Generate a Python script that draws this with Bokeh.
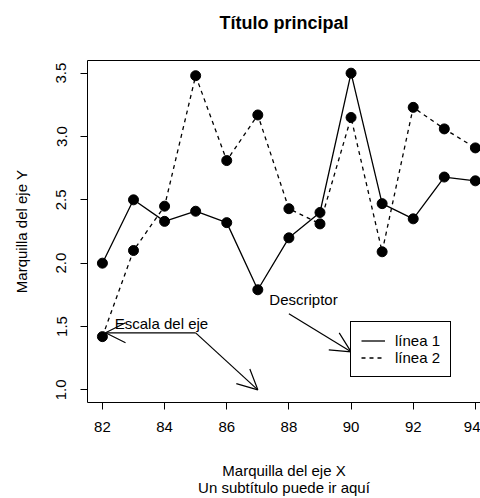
from bokeh.plotting import figure
from bokeh.models import (Range1d, FixedTicker, PrintfTickFormatter, LinearAxis, Arrow,
                          OpenHead, Label, Legend, LegendItem, ColumnDataSource)
from bokeh.embed import file_html
from bokeh.resources import INLINE

# ---- data ----
years = [82, 83, 84, 85, 86, 87, 88, 89, 90, 91, 92, 93, 94]
linea1 = [2.00, 2.50, 2.33, 2.41, 2.32, 1.79, 2.20, 2.40, 3.50, 2.47, 2.35, 2.68, 2.65]
linea2 = [1.42, 2.10, 2.45, 3.48, 2.81, 3.17, 2.43, 2.31, 3.15, 2.09, 3.23, 3.06, 2.91]
x_ticks = [82, 84, 86, 88, 90, 92, 94]
y_ticks = [1.0, 1.5, 2.0, 2.5, 3.0, 3.5]
series_labels = ["línea 1", "línea 2"]

# annotations (data coordinates)
text_labels = ["Escala del eje", "Descriptor"]
text_x = [83.9, 88.47]
text_y = [1.52, 1.71]
arrow_x0 = [85.0, 85.0, 88.0]
arrow_y0 = [1.45, 1.45, 1.60]
arrow_x1 = [82.1, 87.0, 90.0]
arrow_y1 = [1.45, 1.00, 1.30]

FONT = "Liberation Sans"

span_x = max(years) - min(years)
x_lo = min(years) - 0.04 * span_x
x_full_hi = max(years) + 0.04 * span_x
y_lo = min(y_ticks) - 0.04 * (max(y_ticks) - min(y_ticks))
y_hi = max(y_ticks) + 0.04 * (max(y_ticks) - min(y_ticks))
px_per_unit = 31.08
frame_w = 480 - 87
x_hi = x_lo + frame_w / px_per_unit

p = figure(width=480, height=498, output_backend="svg", toolbar_location=None,
           x_range=Range1d(x_lo, x_hi), y_range=Range1d(y_lo, y_hi),
           min_border_left=87, min_border_right=0, min_border_top=60, min_border_bottom=94,
           background_fill_color="white", border_fill_color="white")

p.outline_line_color = None
p.xgrid.visible = False
p.ygrid.visible = False

for ax in (p.xaxis[0], p.yaxis[0]):
    ax.axis_line_color = "black"
    ax.axis_line_width = 1
    ax.major_tick_line_color = "black"
    ax.major_tick_out = 7
    ax.major_tick_in = 0
    ax.minor_tick_line_color = None
    ax.major_label_text_font = FONT
    ax.major_label_text_font_size = "15px"
    ax.major_label_text_color = "black"
    ax.axis_label_text_font = FONT
    ax.axis_label_text_font_size = "15px"
    ax.axis_label_text_font_style = "normal"
    ax.axis_label_text_color = "black"

p.xaxis.bounds = (x_lo, x_full_hi)
p.xaxis.ticker = FixedTicker(ticks=x_ticks)
p.xaxis.formatter = PrintfTickFormatter(format="%d")
p.xaxis.major_label_standoff = 12
p.xaxis.axis_label = "Marquilla del eje X\nUn subtítulo puede ir aquí"
p.xaxis.axis_label_text_line_height = 1.0
p.xaxis.axis_label_standoff = 27

p.yaxis.ticker = FixedTicker(ticks=y_ticks)
p.yaxis.formatter = PrintfTickFormatter(format="%.1f")
p.yaxis.major_label_orientation = "vertical"
p.yaxis.major_label_standoff = 14
p.yaxis.axis_label = "Marquilla del eje Y"
p.yaxis.axis_label_standoff = 24

# top border line, carrying the main title as its label
top_axis = LinearAxis(ticker=FixedTicker(ticks=[]), bounds=(x_lo, x_full_hi),
                      axis_line_color="black",
                      major_tick_line_color=None, minor_tick_line_color=None,
                      major_tick_out=0, major_tick_in=0, major_label_standoff=0,
                      major_label_text_font_size="0px",
                      axis_label="Título principal", axis_label_standoff=28,
                      axis_label_text_font=FONT, axis_label_text_font_size="18px",
                      axis_label_text_font_style="bold", axis_label_text_color="black")
p.add_layout(top_axis, "above")

src = ColumnDataSource(dict(x=years, y1=linea1, y2=linea2))
l1 = p.line("x", "y1", source=src, line_color="black", line_width=1.3)
l2 = p.line("x", "y2", source=src, line_color="black", line_width=1.3, line_dash="4 4")
p.scatter("x", "y1", source=src, size=10, color="black")
p.scatter("x", "y2", source=src, size=10, color="black")

for t, tx, ty in zip(text_labels, text_x, text_y):
    p.add_layout(Label(x=tx, y=ty, text=t, text_align="center", text_baseline="middle",
                       text_font=FONT, text_font_size="15px", text_color="black"))

for xs, ys, xe, ye in zip(arrow_x0, arrow_y0, arrow_x1, arrow_y1):
    p.add_layout(Arrow(x_start=xs, y_start=ys, x_end=xe, y_end=ye, line_width=1.2,
                       line_color="black",
                       end=OpenHead(size=20, line_width=1.2, line_color="black")))

legend = Legend(items=[LegendItem(label=series_labels[0], renderers=[l1]),
                       LegendItem(label=series_labels[1], renderers=[l2])],
                location=(263, 25), orientation="vertical",
                border_line_color="black", border_line_width=1.2, border_line_alpha=1,
                background_fill_color="white", background_fill_alpha=1,
                padding=10, spacing=0, margin=0,
                glyph_width=24, glyph_height=15, label_height=15, label_standoff=10,
                label_text_font=FONT, label_text_font_size="15px", label_text_color="black")
p.add_layout(legend)

open("out.html", "w").write(file_html(p, INLINE))
